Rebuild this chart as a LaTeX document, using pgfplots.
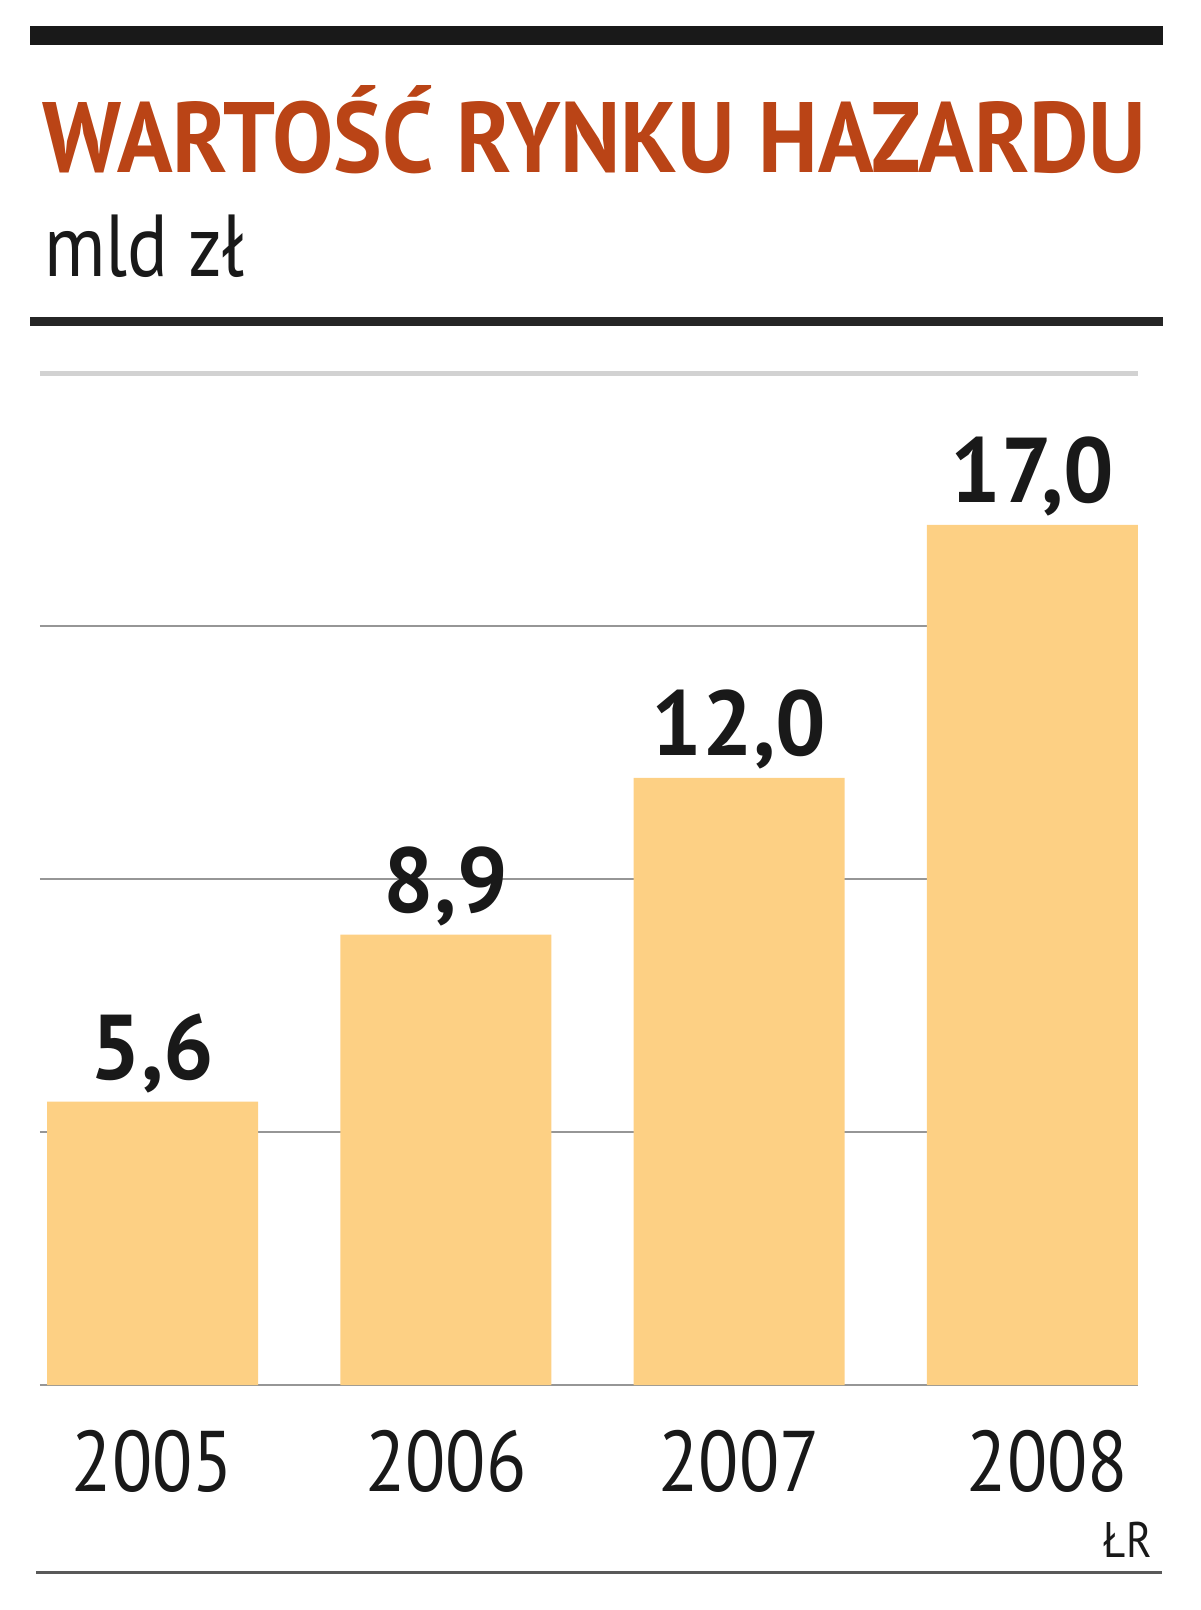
\documentclass[border=0pt]{standalone}
\usepackage{pgfplots}
\pgfplotsset{compat=1.18}
\usepackage{graphicx}
\usepackage{fontspec}
\setmainfont{PT Sans}[FakeStretch=0.86]
\newfontfamily\valfont{PT Sans}[FakeStretch=0.97]

\definecolor{titlec}{RGB}{186,68,22}
\definecolor{barc}{RGB}{253,208,132}
\definecolor{gridc}{RGB}{150,150,150}
\definecolor{topgrid}{RGB}{210,210,210}

\begin{document}
\begin{tikzpicture}
% page frame, 1 px = 0.5pt
\path[use as bounding box] (0,0) rectangle (600pt,-805pt);

% header
\draw[line width=9.5pt, color=black!90] (15pt,-18pt) -- (581.5pt,-18pt);
\node[anchor=base west, inner sep=0pt, text=titlec] at (21pt,-86.5pt)
  {\resizebox{552pt}{\height}{\fontsize{50}{60}\selectfont\bfseries WARTOŚĆ RYNKU HAZARDU}};
\node[anchor=base west, inner sep=0pt, text=black!90] at (22pt,-138.5pt)
  {\fontsize{44}{50}\selectfont mld zł};
\draw[line width=4.5pt, color=black!85] (15pt,-161pt) -- (581.5pt,-161pt);

\begin{axis}[
  at={(20pt,-692.5pt)}, anchor=south west,
  scale only axis, width=549pt, height=506pt,
  xmin=-0.3836, xmax=3.36, ymin=0, ymax=20,
  ybar, bar width=105.5pt,
  axis line style={draw=none}, tick style={draw=none},
  ytick={0,5,10,15}, yticklabels={},
  ymajorgrids, grid style={gridc, line width=1pt},
  extra y ticks={20}, extra y tick labels={},
  extra y tick style={grid style={topgrid, line width=2.5pt}},
  xtick=data,
  xticklabels={2005,2006,2007,{\hspace*{15pt}2008}},
  xticklabel style={anchor=base, yshift=-49pt, font=\fontsize{43}{50}\selectfont, text=black!90},
  nodes near coords,
  every node near coord/.append style={anchor=base, yshift=11pt, font=\fontsize{46}{50}\selectfont\valfont\bfseries, text=black!90},
  /pgf/number format/.cd, fixed, fixed zerofill, precision=1, use comma, assume math mode=true,
]
\addplot[fill=barc, draw=none] coordinates {(0,5.6) (1,8.9) (2,12.0) (3,17.0)};
\end{axis}

% footer
\node[anchor=base east, inner sep=0pt, text=black!90] at (576pt,-778.5pt)
  {\fontsize{25}{30}\selectfont ŁR};
\draw[line width=1.5pt, color=black!65] (18pt,-786pt) -- (581pt,-786pt);
\end{tikzpicture}
\end{document}
